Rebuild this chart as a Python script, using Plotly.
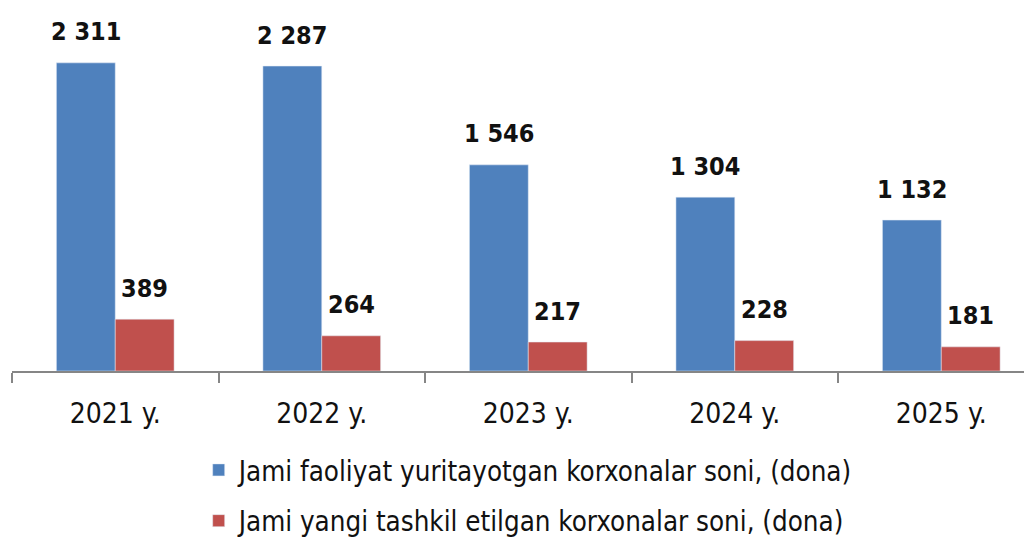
import plotly.graph_objects as go

categories = ["2021 y.", "2022 y.", "2023 y.", "2024 y.", "2025 y."]
active_counts = [2311, 2287, 1546, 1304, 1132]
new_counts = [389, 264, 217, 228, 181]
series_names = [
    "Jami faoliyat yuritayotgan korxonalar soni, (dona)",
    "Jami yangi tashkil etilgan korxonalar soni, (dona)",
]
colors = ["#4F81BD", "#C0504D"]

FONT = "Liberation Sans Narrow, DejaVu Sans Condensed, Roboto, sans-serif"


def fmt(v):
    return f"{v:,}".replace(",", " ")


fig = go.Figure()
for name, vals, col, grp in zip(series_names, [active_counts, new_counts], colors, ["a", "b"]):
    fig.add_trace(go.Bar(
        x=categories, y=vals, name=name, marker_color=col,
        legendgroup=grp,
    ))

half = 29.5
for vals, sh in [(active_counts, -half), (new_counts, half)]:
    for c, v in zip(categories, vals):
        fig.add_annotation(
            x=c, y=v, text=fmt(v), showarrow=False,
            xshift=sh, yshift=31, yanchor="middle",
            font=dict(family=FONT, size=25, color="#111111", weight="bold"),
        )

fig.update_layout(
    width=1032, height=542,
    margin=dict(l=4, r=0, t=3, b=179, autoexpand=False),
    paper_bgcolor="white", plot_bgcolor="white",
    barmode="group", bargap=0.43, bargroupgap=0,
    font=dict(family=FONT, size=24, color="#111111"),
    showlegend=True,
    legend=dict(
        x=0.1816, y=-0.207, xanchor="left", yanchor="top",
        orientation="v", tracegroupgap=12,
        font=dict(family=FONT, size=27.5, color="#111111"),
        itemwidth=30,
    ),
)
fig.update_xaxes(
    range=[-0.5, 4.478], automargin=False,
    showline=True, linecolor="#868686", linewidth=2,
    ticks="outside", tickson="boundaries", ticklen=10, tickcolor="#868686", tickwidth=2,
    tickfont=dict(family=FONT, size=28, color="#111111"),
    ticklabelstandoff=16,
    showgrid=False,
)
fig.update_yaxes(range=[0, 2700], visible=False, showgrid=False, automargin=False)

fig.write_html("out.html")
